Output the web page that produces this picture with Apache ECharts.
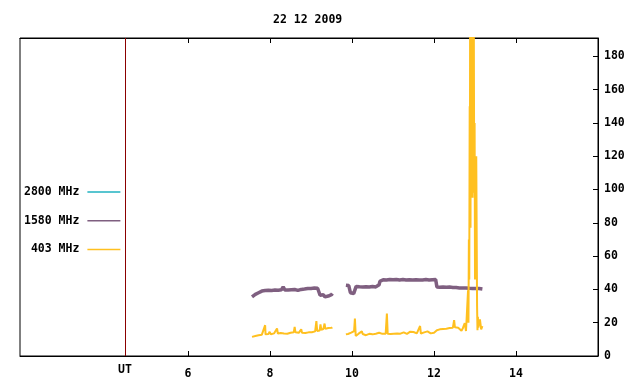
<!DOCTYPE html>
<html>
<head>
<meta charset="utf-8">
<script src="https://cdn.jsdelivr.net/npm/echarts@6/dist/echarts.min.js"></script>
<style>html,body{margin:0;padding:0;background:#fff}#c{width:640px;height:384px}</style>
</head>
<body>
<div id="c"></div>
<script>
const titleText = '22 12 2009';
const seriesNames = ['2800 MHz', '1580 MHz', '403 MHz'];
const xTicks = [6, 8, 10, 12, 14];
const yTicks = [0, 20, 40, 60, 80, 100, 120, 140, 160, 180];
const utTime = 4.46;
const utLabel = 'UT';

// 2800 MHz: no data visible in the reference
const t2800 = [];
const v2800 = [];

// 1580 MHz
const t1580 = [7.56,7.60,7.64,7.68,7.72,7.76,7.80,7.84,7.88,7.92,7.96,8.00,8.04,8.08,8.12,8.16,8.20,8.24,8.28,8.32,8.36,8.40,8.44,8.48,8.52,8.56,8.60,8.64,8.68,8.72,8.76,8.80,8.84,8.88,8.92,8.96,9.00,9.04,9.08,9.12,9.16,9.20,9.22,9.26,9.30,9.34,9.38,9.42,9.46,9.50,9.52,
  9.60,
  9.85,9.88,9.92,9.96,10.00,10.04,10.08,10.10,10.14,10.18,10.22,10.26,10.30,10.34,10.38,10.42,10.46,10.50,10.54,10.58,10.62,10.66,10.68,10.72,10.76,10.80,10.84,10.88,10.92,10.96,11.00,11.04,11.08,11.12,11.16,11.20,11.24,11.28,11.32,11.36,11.40,11.44,11.48,11.52,11.56,11.60,11.64,11.68,11.72,11.76,11.80,11.84,11.88,11.92,11.96,12.00,12.04,12.07,12.10,12.14,12.18,12.22,12.26,12.30,12.34,12.38,12.42,12.46,12.50,12.54,12.58,12.62,12.66,12.70,12.74,12.78,12.82,12.86,12.90,12.94,12.98,13.02,13.06,13.10,13.14,13.18];
const v1580 = [35.5,36.5,37.0,37.5,38.0,38.2,39.0,39.6,39.3,40.0,39.5,40.2,39.4,40.0,39.6,40.3,39.5,40.1,39.8,41.5,39.7,40.2,39.6,40.3,39.8,40.4,39.9,41.0,39.4,40.5,40.0,40.8,40.2,41.2,40.5,41.0,40.6,41.3,40.8,41.2,40.7,40.9,36.5,35.8,36.8,35.5,36.6,36.0,37.2,36.8,37.5,
  null,
  42.5,41.5,42.3,38.0,37.0,37.5,38.0,41.8,42.5,41.6,42.3,41.5,42.2,41.6,42.8,41.4,42.4,41.7,42.6,41.5,42.5,42.8,44.8,45.5,45.8,46.3,45.7,46.5,46.0,47.2,45.8,46.6,46.0,46.8,45.7,46.4,45.9,46.5,45.6,46.3,45.8,46.6,45.7,46.2,45.8,46.4,45.6,46.2,45.7,46.5,45.9,46.3,45.6,46.4,45.8,46.5,45.9,41.5,42.0,41.3,42.2,41.5,42.0,41.3,42.1,41.4,41.9,41.2,41.8,41.1,41.5,40.9,41.4,40.8,41.3,40.9,41.4,40.7,41.2,40.6,41.3,40.6,41.2,40.5,41.0,40.2];

// 403 MHz
const t403 = [7.56,7.60,7.64,7.68,7.72,7.76,7.80,7.84,7.88,7.89,7.92,7.96,7.99,8.02,8.06,8.10,8.14,8.17,8.19,8.22,8.26,8.30,8.34,8.38,8.42,8.46,8.50,8.54,8.58,8.60,8.62,8.66,8.70,8.74,8.76,8.78,8.82,8.86,8.90,8.94,8.98,9.02,9.06,9.10,9.13,9.15,9.18,9.21,9.23,9.25,9.28,9.30,9.33,9.35,9.38,9.42,9.46,9.50,9.52,
  9.60,
  9.85,9.90,9.94,9.98,10.02,10.05,10.07,10.09,10.12,10.16,10.20,10.24,10.26,10.30,10.34,10.38,10.42,10.46,10.50,10.54,10.58,10.62,10.66,10.70,10.74,10.78,10.82,10.85,10.87,10.90,10.94,10.98,11.02,11.06,11.10,11.14,11.18,11.22,11.26,11.30,11.34,11.38,11.42,11.46,11.50,11.54,11.58,11.62,11.66,11.68,11.72,11.76,11.80,11.84,11.88,11.92,11.96,12.00,12.04,12.07,12.10,12.14,12.18,12.22,12.26,12.30,12.34,12.38,12.42,12.46,12.49,12.51,12.55,12.59,12.63,12.67,12.70,12.73,12.75,12.78,12.81,12.83,12.84,12.85,12.86,12.87,12.875,12.88,12.89,12.895,12.90,12.91,12.92,12.93,12.94,12.95,12.96,12.97,12.98,12.99,13.00,13.015,13.03,13.05,13.06,13.07,13.08,13.10,13.12,13.15,13.18];
const v403 = [11.5,11.8,12.0,12.3,12.5,12.6,12.8,12.9,18.5,13.0,13.0,13.2,14.5,13.1,13.4,13.6,13.3,16.5,13.5,14.2,13.8,14.0,13.5,13.7,13.4,13.8,14.0,13.8,14.3,17.5,14.2,14.0,13.9,14.1,16.0,14.0,14.0,13.8,13.9,14.2,14.0,14.3,14.6,14.8,21.0,15.0,15.2,15.3,19.0,15.8,16.5,16.2,19.5,16.3,16.2,16.8,16.4,16.9,17.2,
  null,
  13.0,13.2,13.4,14.0,13.2,15.0,22.5,12.0,13.0,13.4,13.1,14.8,13.2,13.0,12.5,13.1,13.3,13.2,13.0,13.1,13.4,13.2,14.0,13.3,13.3,13.5,13.4,25.5,13.3,13.4,13.2,13.6,13.4,14.3,13.5,13.6,13.4,13.5,14.2,13.6,13.3,14.0,14.6,15.0,14.4,13.8,13.6,13.4,18.0,13.5,13.8,14.2,13.6,14.8,14.0,13.6,13.8,14.0,13.6,15.5,15.8,16.0,15.8,16.2,16.5,16.4,17.0,16.8,17.2,17.0,21.5,17.2,17.4,17.0,16.5,15.2,16.5,18.5,19.8,15.0,16.0,39.5,20.0,70.0,46.0,150,80,205,77,205,100,205,150,205,95,205,134,205,98,140,46,98,120,30,15.5,23.5,17,20,22,16,18,15];

const zip = (t, v) => t.map((x, i) => [x, v[i]]);

const FONT = 'DejaVu Sans Mono';
const colors = ['#20b2c0', '#7f5f80', '#ffc020'];

const chart = echarts.init(document.getElementById('c'), null, {renderer: 'canvas'});
chart.setOption({
  animation: false,
  backgroundColor: '#fff',
  title: {
    text: titleText, left: 268, top: 9,
    textStyle: {fontFamily: FONT, fontWeight: 'bold', fontSize: 11.5, color: '#000'}
  },
  legend: {
    orient: 'vertical', left: 19, top: 181, itemGap: 16.7, align: 'right',
    itemWidth: 33, itemHeight: 1.5, icon: 'rect',
    formatter: name => name.padStart(8, ' '),
    textStyle: {fontFamily: FONT, fontWeight: 'bold', fontSize: 11.5, color: '#000', padding: [0, 3, 0, 0]},
    data: seriesNames
  },
  grid: {left: 20, right: 42, top: 38, bottom: 28, show: true, borderColor: '#000', borderWidth: 1, containLabel: false},
  xAxis: [{
    type: 'value', min: 1.9, max: 16, position: 'bottom',
    axisLine: {show: true, lineStyle: {color: '#000', width: 1}},
    axisTick: {show: true, inside: true, length: 5, customValues: xTicks, lineStyle: {color: '#000'}},
    axisLabel: {show: true, customValues: xTicks, margin: 12, fontFamily: FONT, fontWeight: 'bold', fontSize: 11.5, color: '#000'},
    splitLine: {show: false}
  }, {
    type: 'value', min: 1.9, max: 16, position: 'top',
    axisLine: {show: true, lineStyle: {color: '#000', width: 1}},
    axisTick: {show: true, inside: true, length: 5, customValues: xTicks, lineStyle: {color: '#000'}},
    axisLabel: {show: false},
    splitLine: {show: false}
  }],
  yAxis: [{
    type: 'value', min: 0, max: 191, position: 'right',
    axisLine: {show: true, lineStyle: {color: '#000', width: 1}},
    axisTick: {show: true, inside: true, length: 5, customValues: yTicks, lineStyle: {color: '#000'}},
    axisLabel: {show: true, customValues: yTicks, margin: 6, fontFamily: FONT, fontWeight: 'bold', fontSize: 11.5, color: '#000'},
    splitLine: {show: false}
  }],
  series: [{
    name: seriesNames[0], type: 'line', data: zip(t2800, v2800), showSymbol: false,
    lineStyle: {color: colors[0], width: 1}, itemStyle: {color: colors[0]}
  }, {
    name: seriesNames[1], type: 'line', data: zip(t1580, v1580), showSymbol: false, connectNulls: false,
    lineStyle: {color: colors[1], width: 3.5}, itemStyle: {color: colors[1]}, clip: true,
    markLine: {
      silent: true, symbol: 'none', animation: false,
      lineStyle: {color: '#8b0000', width: 1, type: 'solid'},
      label: {show: true, position: 'start', distance: 8, formatter: utLabel, fontFamily: FONT, fontWeight: 'bold', fontSize: 11.5, color: '#000'},
      data: [{xAxis: utTime}]
    }
  }, {
    name: seriesNames[2], type: 'line', data: zip(t403, v403), showSymbol: false, connectNulls: false,
    lineStyle: {color: colors[2], width: 2}, itemStyle: {color: colors[2]}, clip: true
  }]
});
</script>
</body>
</html>
